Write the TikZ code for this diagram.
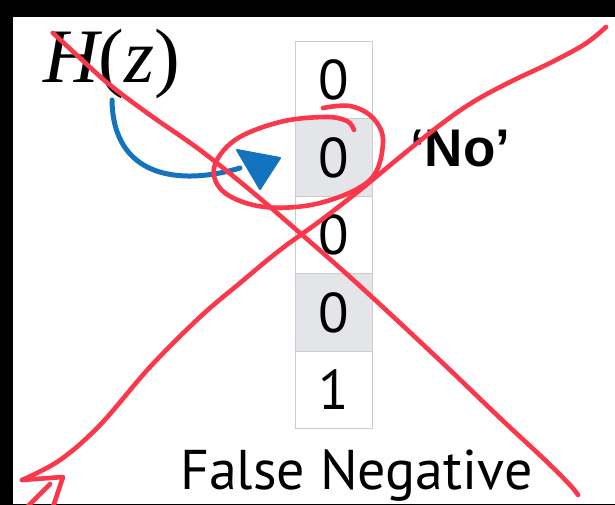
\documentclass[tikz,border=0pt]{standalone}
\usepackage{fontspec}
\setmainfont{PT Sans}
\newfontfamily\boldfam{Liberation Sans}
\newfontfamily\serfam{Liberation Serif}
\definecolor{redink}{RGB}{250,55,75}
\definecolor{bluepen}{RGB}{20,115,190}
\definecolor{cellgray}{RGB}{228,229,232}
\definecolor{cellborder}{RGB}{204,204,204}
\begin{document}
\begin{tikzpicture}[x=1pt,y=-1pt,
  cell/.style={draw=cellborder, line width=1pt, minimum width=77pt, minimum height=77.4pt,
    inner sep=0pt, font=\fontsize{56}{60}\selectfont, anchor=north west},
  grey/.style={fill=cellgray},
  ink/.style={draw=redink, line width=4.6pt, line cap=round, line join=round},
  bluestroke/.style={draw=bluepen, line width=5pt, line cap=round, line join=round}]
\useasboundingbox (0,0) rectangle (615,505);
\fill[white] (0,0) rectangle (615,505);
\fill[black] (0,0) rectangle (615,17);
\fill[black] (0,0) rectangle (13,505);
\fill[black] (0,503.5) rectangle (615,505);

% column of cells
\node[cell] (c1) at (295,41) {0};
\node[cell,grey] (c2) at (295,118.4) {0};
\node[cell] (c3) at (295,195.8) {0};
\node[cell,grey] (c4) at (295,273.2) {0};
\node[cell] (c5) at (295,350.6) {1};

% texts
\node[anchor=base west, inner sep=0pt, font=\serfam\fontsize{77}{82}\selectfont] (hz) at (43,83) {\itshape H\upshape(\itshape z\upshape)};
\node[anchor=base west, inner sep=0pt, font=\boldfam\bfseries\fontsize{53}{57}\selectfont] (no) at (410,167) {‘No’};
\node[anchor=base west, inner sep=0pt, font=\fontsize{56}{60}\selectfont] (fn) at (180,489) {False Negative};

% blue arrow
\draw[bluestroke] (112,100) .. controls (113,178) and (180,186) .. (240,168);
\filldraw[bluestroke, fill=bluepen, line width=2pt] (237,150) -- (280,158) -- (260,189) -- cycle;

% red strokes
\draw[ink] plot[smooth, tension=0.6] coordinates {(53,33) (80,58) (110,85) (150,115) (200,150) (250,190) (300,233) (350,277) (400,323) (450,370) (500,418) (545,460) (570,485) (578,495)};
\draw[ink] plot[smooth, tension=0.6] coordinates {(22,480) (60,460) (100,425) (150,367) (200,317) (240,283) (280,250) (320,221) (360,190) (400,157) (440,125) (473,102) (510,82) (550,63) (585,44) (606,27)};
\draw[ink] (22,480) -- (63,477) -- (53,507);
\draw[ink] (27,507) -- (50,484);
\draw[ink] plot[smooth, tension=0.6] coordinates {(323,108) (350,106) (373,118) (383,142) (370,180) (320,203) (265,207) (225,193) (214,168) (235,140) (280,122) (325,117) (347,121) (354,130)};
\end{tikzpicture}
\end{document}
